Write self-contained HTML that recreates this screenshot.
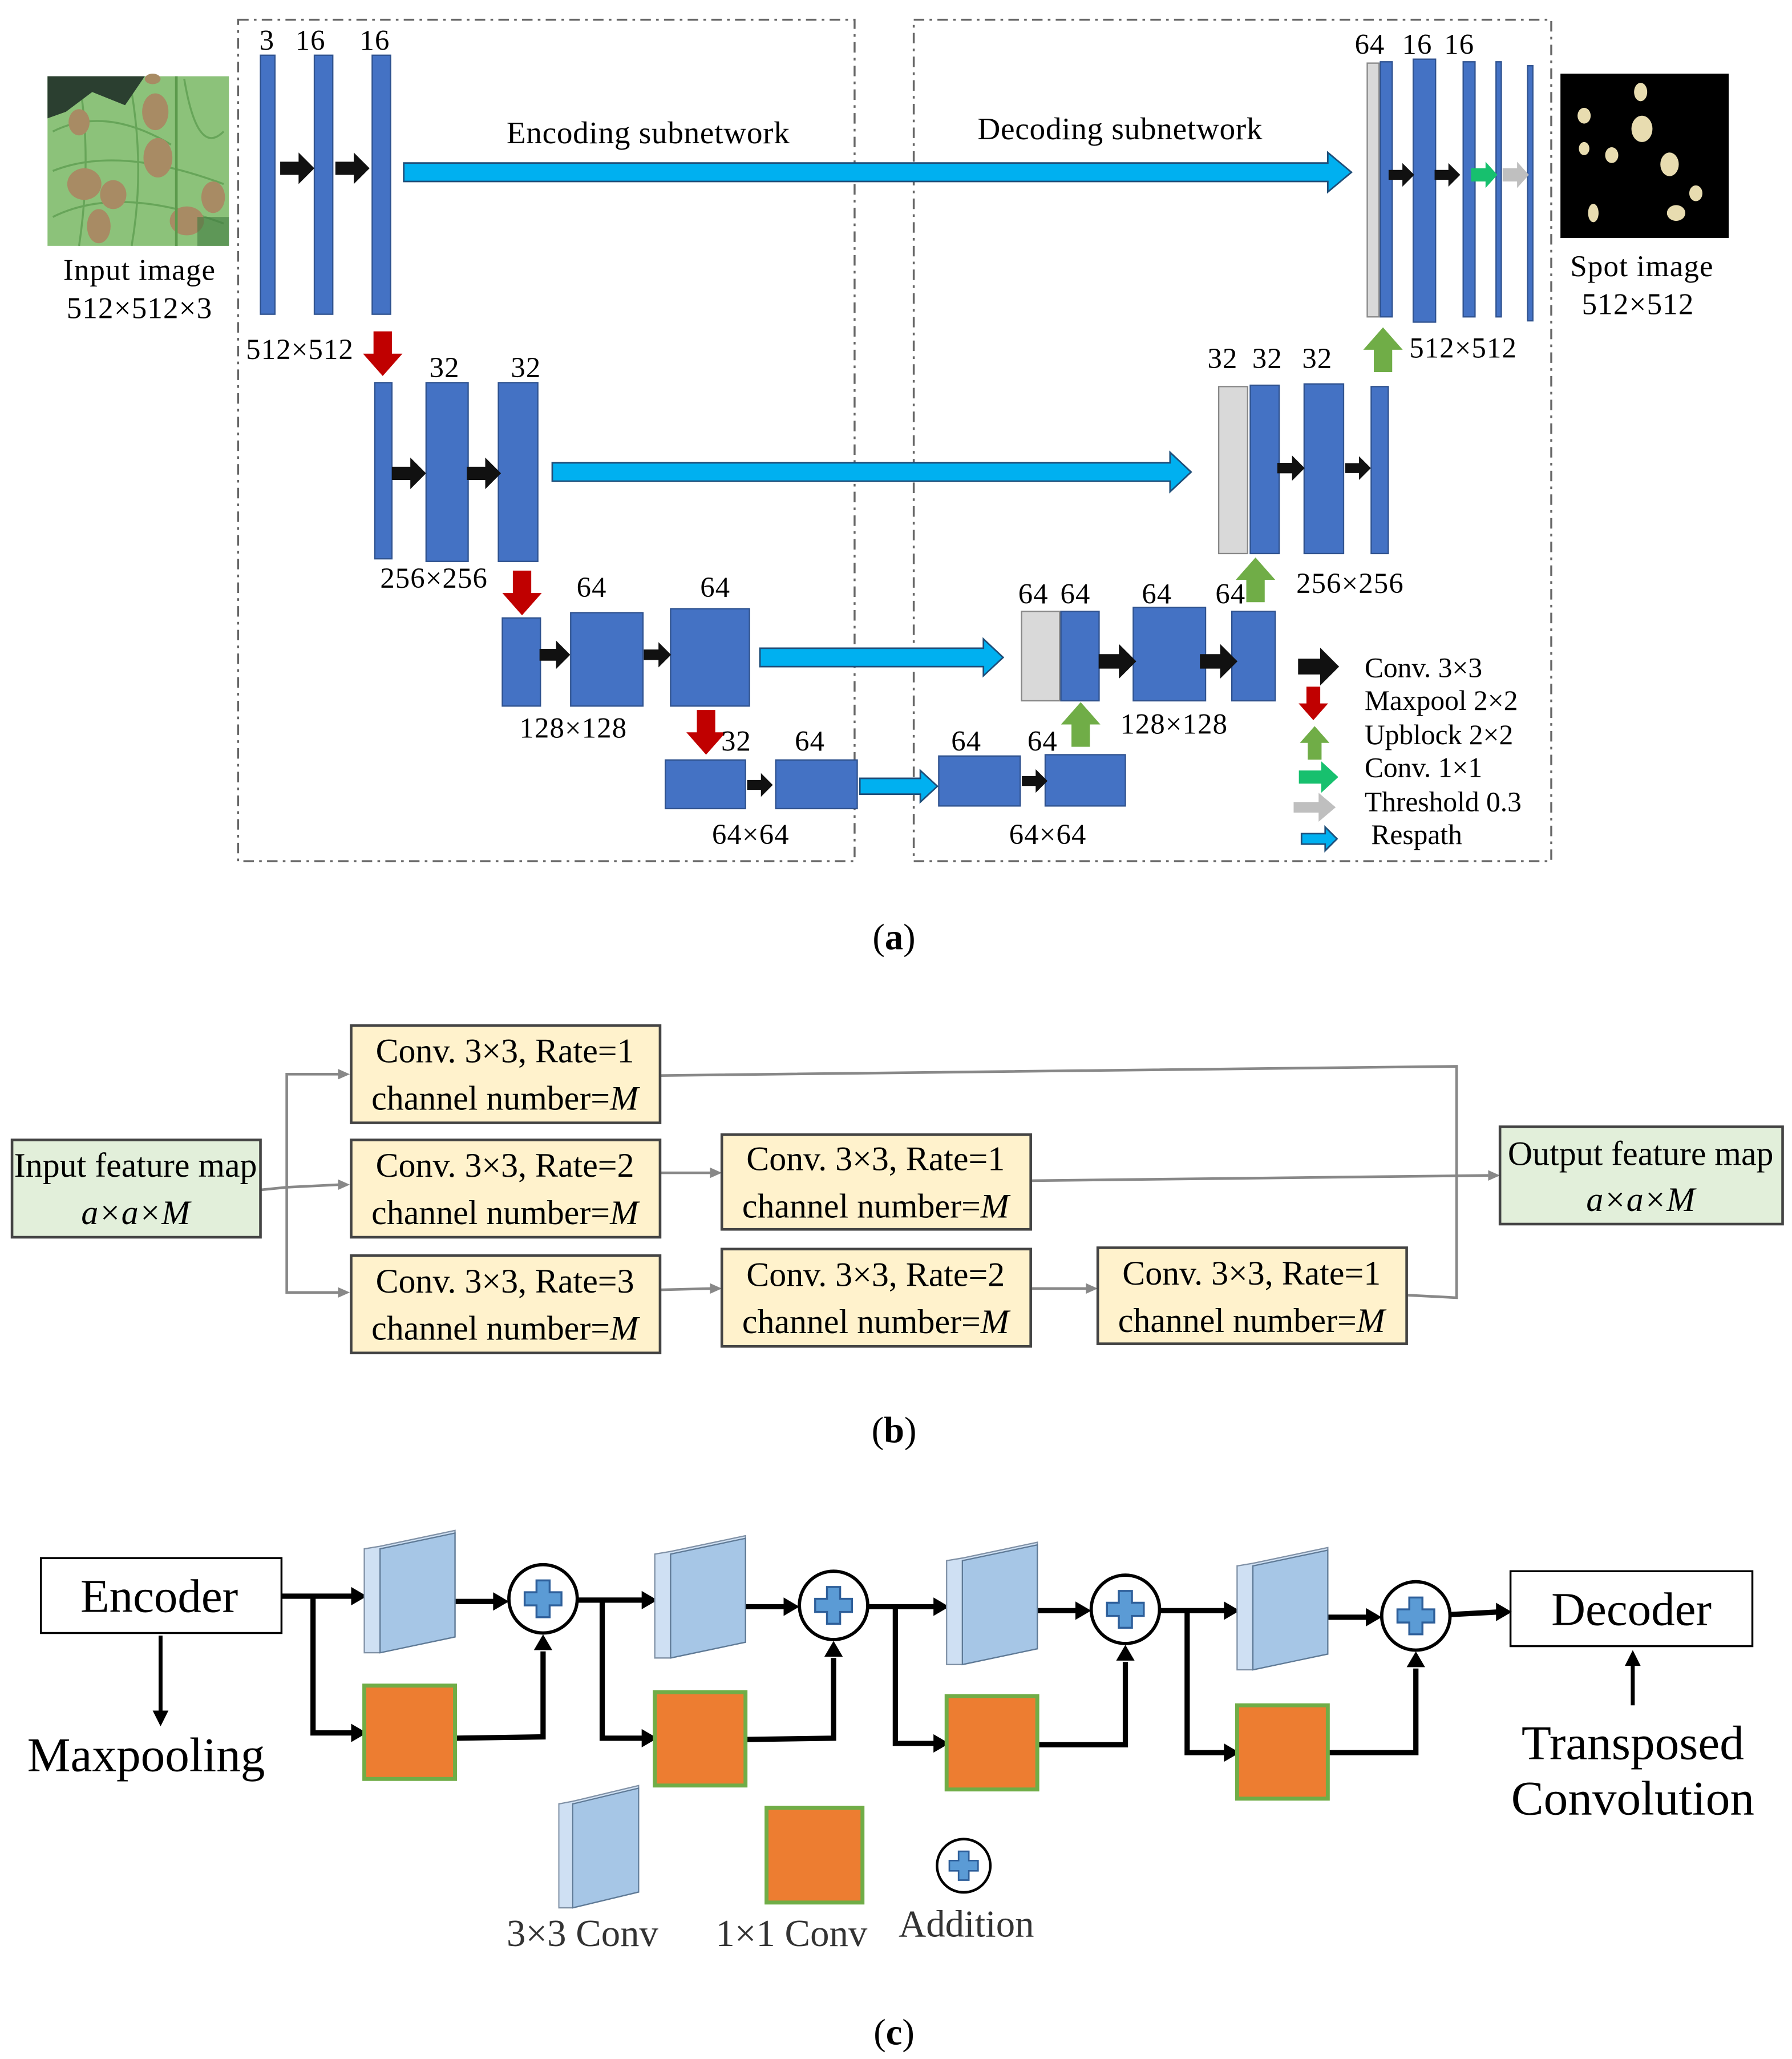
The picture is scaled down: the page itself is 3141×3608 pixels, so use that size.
<!DOCTYPE html>
<html><head><meta charset="utf-8"><style>
html,body{margin:0;padding:0;background:#fff}
svg{display:block}
text{font-family:"Liberation Serif",serif;fill:#000}
</style></head><body>
<svg width="3141" height="3608" viewBox="0 0 1363 1566" xmlns="http://www.w3.org/2000/svg">
<defs>
<path id="ba" d="M-13,-5 H1 V-12 L13,0 L1,12 V5 H-13 Z" fill="#111"/>
<path id="rd" d="M-7,-17 H7 V0 H15 L0,17 L-15,0 H-7 Z" fill="#c00000"/>
<path id="gu" d="M-7,17 H7 V0 H15 L0,-17 L-15,0 H-7 Z" fill="#70ad47"/>
<g id="plus"><circle r="26" fill="#fff" stroke="#000" stroke-width="2.5"/><path d="M-5,-14 H5 V-5 H14 V5 H5 V14 H-5 V5 H-14 V-5 H-5 Z" fill="#5b9bd5" stroke="#2e5f9a" stroke-width="1.5"/></g>
<g id="blk"><polygon points="0,12 12,10 69,-2 69,79 12,91 0,91" fill="#cfe0f3" stroke="#8091a6" stroke-width="1"/><polygon points="12,12 69,0 69,79 12,91" fill="#a6c6e6" stroke="#5f7a96" stroke-width="1"/></g>
<path id="ah" d="M0,0 L-12,-7 L-12,7 Z" fill="#000"/>
</defs>

<rect x="181" y="15" width="469" height="640" fill="none" stroke="#666" stroke-width="1.5" stroke-dasharray="8,4,2,4"/>
<rect x="695" y="15" width="485" height="640" fill="none" stroke="#666" stroke-width="1.5" stroke-dasharray="8,4,2,4"/>

<!-- input image -->
<rect x="36" y="58" width="138" height="129" fill="#8cc27a"/>
<g stroke="#5f9e52" stroke-width="1.5" fill="none" opacity="0.8">
<path d="M40,100 Q80,80 130,110"/><path d="M40,130 Q90,110 170,140"/><path d="M40,165 Q90,140 170,170"/><path d="M140,60 Q150,120 170,100"/><path d="M60,60 Q70,120 60,187"/><path d="M100,70 Q110,130 100,187"/>
</g>
<path d="M36,58 H110 L95,80 L70,70 L50,85 L36,90 Z" fill="#2b3f30"/>
<g fill="#a88b64">
<ellipse cx="118" cy="85" rx="10" ry="14"/><ellipse cx="120" cy="120" rx="11" ry="15"/><ellipse cx="86" cy="148" rx="10" ry="11"/><ellipse cx="64" cy="140" rx="13" ry="12"/><ellipse cx="142" cy="168" rx="13" ry="11"/><ellipse cx="162" cy="150" rx="9" ry="12"/><ellipse cx="75" cy="172" rx="9" ry="13"/><ellipse cx="186" cy="175" rx="0" ry="0"/><ellipse cx="116" cy="60" rx="6" ry="4"/><ellipse cx="193" cy="120" rx="0" ry="0"/><ellipse cx="200" cy="120" rx="0" ry="0"/><ellipse cx="196" cy="130" rx="0" ry="0"/><ellipse cx="200" cy="120" rx="0" ry="0"/><ellipse cx="117" cy="175" rx="0" ry="0"/><ellipse cx="120" cy="50" rx="0" ry="0"/><ellipse cx="112" cy="88" rx="0" ry="0"/><ellipse cx="112" cy="88" rx="0" ry="0"/><ellipse cx="60" cy="93" rx="8" ry="10"/></g>
<line x1="134" y1="58" x2="134" y2="187" stroke="#5c9a4c" stroke-width="2"/>
<rect x="150" y="165" width="24" height="22" fill="#3f7a3f" opacity="0.6"/>
<text x="106" y="213" font-size="23" text-anchor="middle" letter-spacing="0.5">Input  image</text>
<text x="106" y="242" font-size="23" text-anchor="middle" letter-spacing="0.5">512×512×3</text>

<!-- spot image -->
<rect x="1187" y="56" width="128" height="125" fill="#000"/>
<g fill="#e8dcb0"><ellipse cx="1248" cy="70" rx="5" ry="7"/><ellipse cx="1249" cy="98" rx="8" ry="10"/><ellipse cx="1205" cy="88" rx="5" ry="6"/><ellipse cx="1226" cy="118" rx="5" ry="6"/><ellipse cx="1205" cy="113" rx="4" ry="5"/><ellipse cx="1270" cy="125" rx="7" ry="9"/><ellipse cx="1290" cy="147" rx="5" ry="6"/><ellipse cx="1275" cy="162" rx="7" ry="6"/><ellipse cx="1212" cy="162" rx="4" ry="7"/></g>
<text x="1249" y="210" font-size="23" text-anchor="middle" letter-spacing="0.5">Spot  image</text>
<text x="1246" y="239" font-size="23" text-anchor="middle" letter-spacing="0.5">512×512</text>

<g fill="#4472c4" stroke="#2f528f" stroke-width="1">
<rect x="198" y="42" width="11" height="197"/><rect x="239" y="42" width="14" height="197"/><rect x="283" y="42" width="14" height="197"/>
<rect x="1050" y="47" width="9" height="194"/><rect x="1075" y="45" width="17" height="200"/><rect x="1113" y="47" width="9" height="194"/><rect x="1138" y="47" width="4" height="194"/><rect x="1162" y="50" width="4" height="194"/>
<rect x="285" y="291" width="13" height="134"/><rect x="324" y="291" width="32" height="136"/><rect x="379" y="291" width="30" height="136"/>
<rect x="951" y="293" width="22" height="128"/><rect x="992" y="292" width="30" height="129"/><rect x="1043" y="294" width="13" height="127"/>
<rect x="382" y="470" width="29" height="67"/><rect x="434" y="466" width="55" height="71"/><rect x="510" y="463" width="60" height="74"/>
<rect x="807" y="465" width="29" height="68"/><rect x="862" y="462" width="55" height="71"/><rect x="937" y="465" width="33" height="68"/>
<rect x="506" y="578" width="61" height="37"/><rect x="590" y="578" width="62" height="37"/>
<rect x="714" y="575" width="62" height="38"/><rect x="795" y="574" width="61" height="39"/>
</g>
<g fill="#d9d9d9" stroke="#888" stroke-width="1">
<rect x="1040" y="48" width="9" height="193"/><rect x="927" y="294" width="22" height="127"/><rect x="777" y="465" width="29" height="68"/>
</g>

<g fill="#00b0f0" stroke="#1f4e79" stroke-width="1.2">
<path d="M307,124 H1010 V116 L1028,131 L1010,146 V138 H307 Z"/>
<path d="M420,352 H890 V344 L906,359 L890,374 V366 H420 Z"/>
<path d="M578,493 H748 V486 L763,500 L748,514 V507 H578 Z"/>
<path d="M654,592 H700 V586 L713,598 L700,610 V604 H654 Z"/>
<path d="M990,634 H1008 V629 L1017,638 L1008,647 V642 H990 Z"/>
</g>

<use href="#ba" transform="translate(226,128)"/><use href="#ba" transform="translate(268,128)"/>
<use href="#ba" transform="translate(311,360)"/><use href="#ba" transform="translate(368,360)"/>
<use href="#ba" transform="translate(422,498) scale(0.9)"/><use href="#ba" transform="translate(500,498) scale(0.8)"/>
<use href="#ba" transform="translate(578,597) scale(0.75)"/><use href="#ba" transform="translate(787,594) scale(0.75)"/>
<use href="#ba" transform="translate(850,503) scale(1.1)"/><use href="#ba" transform="translate(927,503) scale(1.1)"/>
<use href="#ba" transform="translate(982,356) scale(0.8)"/><use href="#ba" transform="translate(1033,356) scale(0.75)"/>
<use href="#ba" transform="translate(1066,133) scale(0.75)"/><use href="#ba" transform="translate(1101,133) scale(0.75)"/>
<use href="#ba" transform="translate(1003,507) scale(1.2)"/>
<path d="M1119,128 H1130 V123 L1139,133 L1130,143 V138 H1119 Z" fill="#17c06e"/>
<path d="M1143,128 H1154 V123 L1163,133 L1154,143 V138 H1143 Z" fill="#bfbfbf"/>
<path d="M988,586 H1005 V579 L1018,591 L1005,603 V596 H988 Z" fill="#17c06e"/>
<path d="M984,610 H1003 V603 L1016,614 L1003,625 V618 H984 Z" fill="#bfbfbf"/>

<use href="#rd" transform="translate(291,269)"/><use href="#rd" transform="translate(397,451)"/><use href="#rd" transform="translate(537,557)"/>
<use href="#rd" transform="translate(999,535) scale(0.75)"/>
<use href="#gu" transform="translate(1052,266)"/><use href="#gu" transform="translate(955,441)"/><use href="#gu" transform="translate(822,551)"/>
<use href="#gu" transform="translate(1000,565) scale(0.75)"/>

<g font-size="22" letter-spacing="0.5">
<text x="203" y="38" text-anchor="middle">3</text><text x="236" y="38" text-anchor="middle">16</text><text x="285" y="38" text-anchor="middle">16</text>
<text x="228" y="273" text-anchor="middle">512×512</text>
<text x="338" y="287" text-anchor="middle">32</text><text x="400" y="287" text-anchor="middle">32</text>
<text x="330" y="447" text-anchor="middle">256×256</text>
<text x="450" y="454" text-anchor="middle">64</text><text x="544" y="454" text-anchor="middle">64</text>
<text x="436" y="561" text-anchor="middle">128×128</text>
<text x="560" y="571" text-anchor="middle">32</text><text x="616" y="571" text-anchor="middle">64</text>
<text x="571" y="642" text-anchor="middle">64×64</text>
<text x="735" y="571" text-anchor="middle">64</text><text x="793" y="571" text-anchor="middle">64</text>
<text x="797" y="642" text-anchor="middle">64×64</text>
<text x="786" y="459" text-anchor="middle">64</text><text x="818" y="459" text-anchor="middle">64</text><text x="880" y="459" text-anchor="middle">64</text><text x="936" y="459" text-anchor="middle">64</text>
<text x="893" y="558" text-anchor="middle">128×128</text>
<text x="930" y="280" text-anchor="middle">32</text><text x="964" y="280" text-anchor="middle">32</text><text x="1002" y="280" text-anchor="middle">32</text>
<text x="1027" y="451" text-anchor="middle">256×256</text>
<text x="1042" y="41" text-anchor="middle">64</text><text x="1078" y="41" text-anchor="middle">16</text><text x="1110" y="41" text-anchor="middle">16</text>
<text x="1113" y="272" text-anchor="middle">512×512</text>
</g>
<g font-size="24" letter-spacing="0.3">
<text x="493" y="109" text-anchor="middle">Encoding  subnetwork</text>
<text x="852" y="106" text-anchor="middle">Decoding  subnetwork</text>
</g>
<g font-size="21.5">
<text x="1038" y="515">Conv. 3×3</text><text x="1038" y="540">Maxpool 2×2</text><text x="1038" y="566">Upblock 2×2</text>
<text x="1038" y="591">Conv. 1×1</text><text x="1038" y="617">Threshold 0.3</text><text x="1043" y="642">Respath</text>
</g>
<text x="680" y="722" font-size="28" text-anchor="middle">(<tspan font-weight="bold">a</tspan>)</text>

<!-- (b) -->
<g stroke="#888" stroke-width="2" fill="none">
<polyline points="198,905 218,903"/>
<polyline points="258,817 218,817 218,983 258,983"/>
<line x1="218" y1="903" x2="258" y2="901"/>
<polyline points="502,818 1108,811 1108,987 1070,985"/>
<line x1="502" y1="892" x2="541" y2="892"/>
<line x1="784" y1="898" x2="1132" y2="894"/>
<line x1="502" y1="981" x2="541" y2="980"/>
<line x1="784" y1="980" x2="827" y2="980"/>
</g>
<g fill="#888">
<path d="M266,817 l-9,-4 v8z"/><path d="M266,983 l-9,-4 v8z"/><path d="M266,901 l-9,-4 v8z"/>
<path d="M549,892 l-9,-4 v8z"/><path d="M549,980 l-9,-4 v8z"/><path d="M835,980 l-9,-4 v8z"/><path d="M1141,894 l-9,-4 v8z"/>
</g>
<g stroke="#444" stroke-width="2">
<rect x="9" y="867" width="189" height="74" fill="#e2efda"/>
<rect x="1141" y="857" width="215" height="74" fill="#e2efda"/>
<g fill="#fff2cc">
<rect x="267" y="780" width="235" height="74"/><rect x="267" y="867" width="235" height="74"/><rect x="267" y="955" width="235" height="74"/>
<rect x="549" y="863" width="235" height="72"/><rect x="549" y="950" width="235" height="74"/><rect x="835" y="949" width="235" height="73"/>
</g></g>
<g font-size="26" text-anchor="middle">
<text x="384" y="808">Conv. 3×3, Rate=1</text><text x="384" y="844">channel number=<tspan font-style="italic">M</tspan></text>
<text x="384" y="895">Conv. 3×3, Rate=2</text><text x="384" y="931">channel number=<tspan font-style="italic">M</tspan></text>
<text x="384" y="983">Conv. 3×3, Rate=3</text><text x="384" y="1019">channel number=<tspan font-style="italic">M</tspan></text>
<text x="666" y="890">Conv. 3×3, Rate=1</text><text x="666" y="926">channel number=<tspan font-style="italic">M</tspan></text>
<text x="666" y="978">Conv. 3×3, Rate=2</text><text x="666" y="1014">channel number=<tspan font-style="italic">M</tspan></text>
<text x="952" y="977">Conv. 3×3, Rate=1</text><text x="952" y="1013">channel number=<tspan font-style="italic">M</tspan></text>
<text x="103" y="895">Input  feature map</text><text x="103" y="931" font-style="italic">a×a×M</text>
<text x="1248" y="886">Output  feature map</text><text x="1248" y="921" font-style="italic">a×a×M</text>
</g>
<text x="680" y="1097" font-size="28" text-anchor="middle">(<tspan font-weight="bold">b</tspan>)</text>

<!-- (c) -->
<rect x="31" y="1185" width="183" height="57" fill="#fff" stroke="#000" stroke-width="1.5"/>
<text x="121" y="1226" font-size="36" text-anchor="middle">Encoder</text>
<rect x="1149" y="1195" width="184" height="57" fill="#fff" stroke="#000" stroke-width="1.5"/>
<text x="1241" y="1236" font-size="36" text-anchor="middle">Decoder</text>
<line x1="122" y1="1244" x2="122" y2="1302" stroke="#000" stroke-width="3"/><path d="M122,1313 l-6,-12 h12z"/>
<line x1="1242" y1="1297" x2="1242" y2="1266" stroke="#000" stroke-width="3"/><path d="M1242,1255 l-6,12 h12z"/>
<text x="111" y="1347" font-size="37" text-anchor="middle">Maxpooling</text>
<text x="1242" y="1338" font-size="37" text-anchor="middle">Transposed</text>
<text x="1242" y="1380" font-size="37" text-anchor="middle">Convolution</text>

<g stroke="#000" stroke-width="4" fill="none">
<polyline points="214,1214 268,1214"/><polyline points="238,1214 238,1318 268,1318"/>
<polyline points="334,1218 378,1218"/><polyline points="346,1322 413,1321 413,1256"/>
<polyline points="439,1217 490,1217"/><polyline points="458,1217 458,1322 490,1322"/>
<polyline points="557,1222 598,1222"/><polyline points="567,1323 634,1322 634,1261"/>
<polyline points="660,1222 712,1222"/><polyline points="681,1222 681,1326 712,1326"/>
<polyline points="779,1225 820,1225"/><polyline points="789,1327 856,1327 856,1264"/>
<polyline points="882,1225 933,1225"/><polyline points="903,1225 903,1333 933,1333"/>
<polyline points="1000,1230 1041,1230"/><polyline points="1010,1333 1077,1333 1077,1269"/>
<polyline points="1103,1228 1140,1226"/>
</g>
<g>
<use href="#ah" transform="translate(279,1214)"/><use href="#ah" transform="translate(279,1318)"/><use href="#ah" transform="translate(387,1218)"/><use href="#ah" transform="translate(413,1243) rotate(-90)"/>
<use href="#ah" transform="translate(500,1217)"/><use href="#ah" transform="translate(500,1322)"/><use href="#ah" transform="translate(608,1222)"/><use href="#ah" transform="translate(634,1248) rotate(-90)"/>
<use href="#ah" transform="translate(722,1222)"/><use href="#ah" transform="translate(722,1326)"/><use href="#ah" transform="translate(830,1225)"/><use href="#ah" transform="translate(856,1251) rotate(-90)"/>
<use href="#ah" transform="translate(943,1225)"/><use href="#ah" transform="translate(943,1333)"/><use href="#ah" transform="translate(1051,1230)"/><use href="#ah" transform="translate(1077,1256) rotate(-90)"/>
<use href="#ah" transform="translate(1150,1226)"/>
</g>
<use href="#blk" transform="translate(277,1166)"/><use href="#blk" transform="translate(498,1170)"/><use href="#blk" transform="translate(720,1175)"/><use href="#blk" transform="translate(941,1179)"/>
<use href="#blk" transform="translate(425,1360) scale(0.88,1.0)"/>
<g fill="#ed7d31" stroke="#70ad47" stroke-width="3">
<rect x="277" y="1282" width="69" height="71"/><rect x="498" y="1287" width="69" height="71"/><rect x="720" y="1290" width="69" height="71"/><rect x="941" y="1297" width="69" height="71"/><rect x="583" y="1375" width="73" height="72"/>
</g>
<use href="#plus" transform="translate(413,1216)"/><use href="#plus" transform="translate(634,1221)"/><use href="#plus" transform="translate(856,1224)"/><use href="#plus" transform="translate(1077,1229)"/>
<use href="#plus" transform="translate(733,1419) scale(0.78)"/>
<g font-size="29" text-anchor="middle">
<text x="443" y="1480" style="fill:#333">3×3 Conv</text><text x="602" y="1480" style="fill:#333">1×1 Conv</text><text x="735" y="1473" style="fill:#333">Addition</text>
</g>
<text x="680" y="1555" font-size="28" text-anchor="middle">(<tspan font-weight="bold">c</tspan>)</text>
</svg>
</body></html>
